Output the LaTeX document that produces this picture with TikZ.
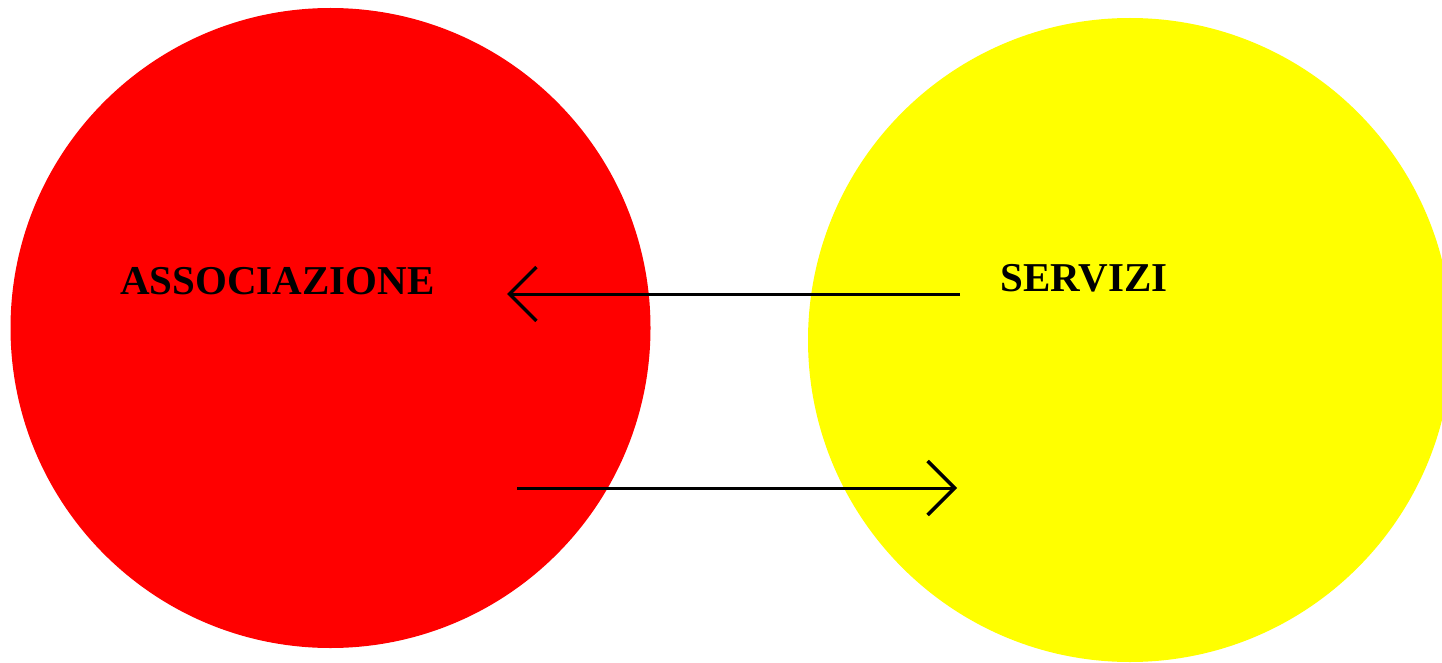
\documentclass[tikz,border=0pt]{standalone}
\usepackage{fontspec}
\setmainfont{Liberation Serif}
\usetikzlibrary{arrows.meta}
\definecolor{pureRed}{RGB}{255,0,0}
\definecolor{pureYellow}{RGB}{255,255,0}
\begin{document}
\begin{tikzpicture}[x=1pt,y=-1pt,
  blob/.style={circle,inner sep=0pt,minimum size=#1},
  lbl/.style={inner sep=0pt,font=\fontsize{41}{41}\selectfont\bfseries},
  flow/.style={line width=3pt,-{Straight Barb[length=27pt,width=54pt,line width=3.5pt]}}]
\useasboundingbox (0,0) rectangle (1442,663);
\clip (0,0) rectangle (1442,663);
\node[blob=640pt,fill=pureRed] (assocC) at (330.5,328) {};
\node[blob=644pt,fill=pureYellow] (servC) at (1130,340) {};
\node[lbl] (assoc) at (277.5,281.5) {ASSOCIAZIONE};
\node[lbl] (serv) at (1084,278) {SERVIZI};
\coordinate (a1) at (960,294);
\coordinate (a2) at (507,294);
\coordinate (b1) at (517,488);
\coordinate (b2) at (957,488);
\draw[flow] (a1) -- (a2);
\draw[flow] (b1) -- (b2);
\end{tikzpicture}
\end{document}
